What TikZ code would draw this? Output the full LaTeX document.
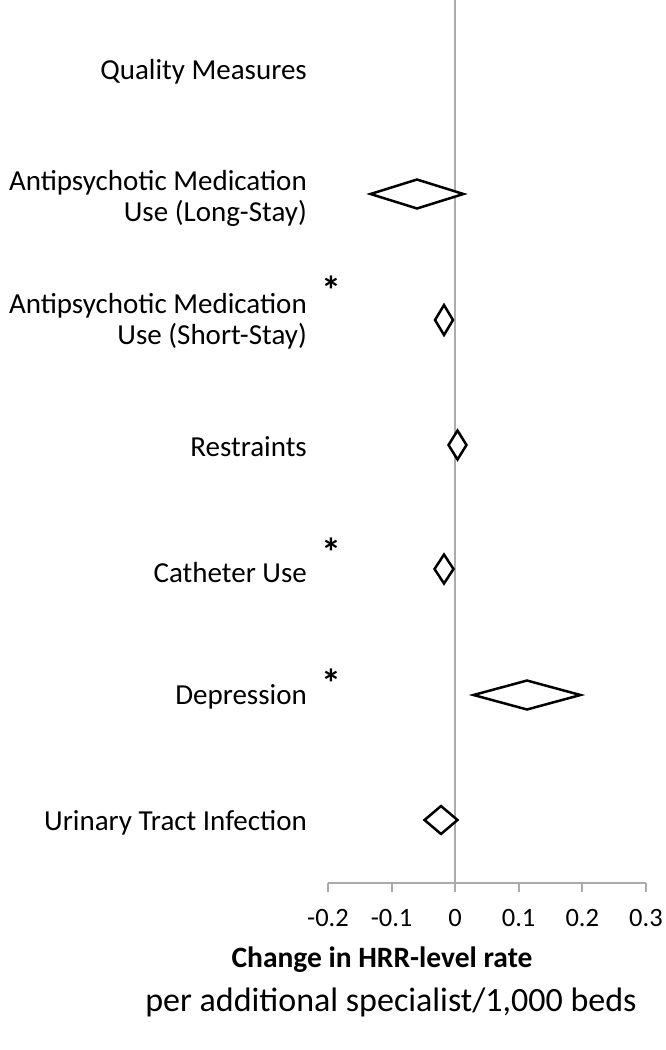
\documentclass[tikz,border=0pt]{standalone}
\usepackage{fontspec}
\setmainfont{Carlito}
\usetikzlibrary{shapes.geometric}
\begin{document}
\begin{tikzpicture}[x=1pt,y=-1pt,
  lbl/.style={anchor=east,align=right,font=\fontsize{29}{31}\selectfont,inner sep=0pt},
  tick/.style={font=\fontsize{26.5}{28}\selectfont,inner sep=0pt},
  axisline/.style={draw=black!33,line width=2pt},
  est/.style={diamond,draw=black,line width=2.5pt,inner sep=0pt,fill=white},
  star/.style={font=\bfseries\fontsize{40}{42}\selectfont,inner sep=0pt,anchor=base}]
\useasboundingbox (0,0) rectangle (666,1050);
% axis
\coordinate (top) at (455,0);
\coordinate (zero) at (455,883);
\coordinate (axL) at (328,883);
\coordinate (axR) at (646,883);
\draw[axisline] (top) -- (zero);
\draw[axisline] (axL) -- (axR);
\foreach \x/\t [count=\i] in {328/-0.2,391.6/-0.1,455/0,518.6/0.1,582.3/0.2,646/0.3}{
  \coordinate (t\i) at (\x,883);
  \draw[axisline] (t\i) -- ++(0,9);
  \node[tick] (tl\i) at (\x,918) {\t};
}
% labels
\node[lbl] (q0) at (307,72) {Quality Measures};
\node[lbl] (q1) at (307,198) {Antipsychotic Medication\\Use (Long-Stay)};
\node[lbl] (q2) at (307,321) {Antipsychotic Medication\\Use (Short-Stay)};
\node[lbl] (q3) at (307,447) {Restraints};
\node[lbl] (q4) at (307,573) {Catheter Use};
\node[lbl] (q5) at (307,697) {Depression};
\node[lbl] (q6) at (307,823) {Urinary Tract Infection};
% asterisks
\node[star] (s2) at (331,304) {*};
\node[star] (s4) at (331,566) {*};
\node[star] (s5) at (331,697) {*};
% estimates
\node[est,minimum width=94pt,minimum height=30pt] (d1) at (417,194) {};
\node[est,minimum width=19pt,minimum height=31pt] (d2) at (444,320) {};
\node[est,minimum width=19pt,minimum height=30pt] (d3) at (457.5,445) {};
\node[est,minimum width=20pt,minimum height=30pt] (d4) at (444,569) {};
\node[est,minimum width=108pt,minimum height=30pt] (d5) at (527,695) {};
\node[est,minimum width=34pt,minimum height=29pt] (d6) at (441,820) {};
% axis title
\node[font=\bfseries\fontsize{29.5}{32}\selectfont,inner sep=0pt] (xt1) at (382,960) {Change in HRR-level rate};
\node[font=\fontsize{34}{38}\selectfont,inner sep=0pt] (xt2) at (391,1002) {per additional specialist/1,000 beds};
\end{tikzpicture}
\end{document}
